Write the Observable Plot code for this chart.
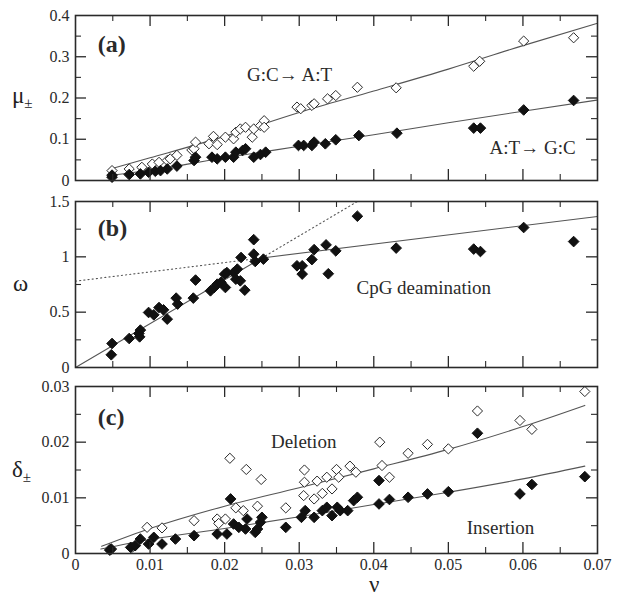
<!DOCTYPE html>
<html><head><meta charset="utf-8">
<script src="https://cdn.jsdelivr.net/npm/d3@7"></script>
<script src="https://cdn.jsdelivr.net/npm/@observablehq/plot@0.6"></script>
<style>
body{margin:0;background:#fff;}
#wrap{position:relative;width:622px;height:596px;font-family:"Liberation Serif","DejaVu Serif",serif;color:#222;}
.p{position:absolute;left:0;}
.lab{position:absolute;font-size:23px;line-height:1;}
.lab sub{font-size:15px;vertical-align:-5px;}
</style></head><body><div id="wrap"></div>
<script>
// ---- data ----
const xTicksMajor = [0.01, 0.02, 0.03, 0.04, 0.05, 0.06];
const xTicksMinor = [0.005, 0.015, 0.025, 0.035, 0.045, 0.055, 0.065];
const xTickLabels = [0, 0.01, 0.02, 0.03, 0.04, 0.05, 0.06, 0.07];

const aTickLabels = [0, 0.1, 0.2, 0.3, 0.4];
const aMinor = [0.05, 0.15, 0.25, 0.35];
const bTickLabels = [0, 0.5, 1, 1.5];
const bMinor = [0.25, 0.75, 1.25];
const cTickLabels = [0, 0.01, 0.02, 0.03];
const cMinor = [0.005, 0.015, 0.025];

// (a) G:C -> A:T (open) and A:T -> G:C (filled)
const gcToAt = [[0.0049,0.024],[0.0072,0.028],[0.0089,0.032],[0.0103,0.040],[0.0112,0.044],[0.0123,0.0485],[0.0127,0.0525],[0.0136,0.061],[0.0156,0.074],[0.0159,0.077],[0.0161,0.093],[0.0179,0.089],[0.0185,0.107],[0.019,0.087],[0.0201,0.105],[0.0212,0.101],[0.0215,0.117],[0.0221,0.125],[0.0228,0.129],[0.0237,0.105],[0.0239,0.125],[0.0248,0.133],[0.0253,0.145],[0.0253,0.129],[0.0297,0.178],[0.0302,0.174],[0.0317,0.182],[0.032,0.186],[0.0338,0.198],[0.0349,0.206],[0.0378,0.226],[0.0430,0.2247],[0.0534,0.277],[0.0542,0.289],[0.0601,0.338],[0.0668,0.346]];
const atToGc = [[0.0049,0.008],[0.0049,0.013],[0.0072,0.0145],[0.0087,0.016],[0.0098,0.020],[0.0107,0.0225],[0.0114,0.024],[0.0123,0.028],[0.0136,0.035],[0.0159,0.0485],[0.0161,0.0565],[0.0183,0.0565],[0.019,0.0525],[0.0201,0.0565],[0.0212,0.0565],[0.0215,0.0686],[0.0224,0.0727],[0.0228,0.077],[0.0239,0.0565],[0.0248,0.063],[0.0255,0.0686],[0.0299,0.085],[0.0306,0.085],[0.0317,0.085],[0.032,0.093],[0.0335,0.089],[0.0349,0.0987],[0.038,0.109],[0.0431,0.1147],[0.0534,0.127],[0.0543,0.127],[0.0601,0.171],[0.0668,0.194]];
const gcFitX = [0.0045,0.01,0.02,0.03,0.04,0.05,0.06,0.07];
const gcFitY = [0.027,0.055,0.107,0.165,0.217,0.27,0.327,0.381];
const atFitX = [0.0045,0.01,0.02,0.03,0.04,0.05,0.06,0.07];
const atFitY = [0.012,0.025,0.055,0.083,0.111,0.140,0.168,0.195];

// (b) omega
const omega = [[0.0049,0.217],[0.0048,0.115],[0.0072,0.262],[0.0087,0.338],[0.0085,0.307],[0.0086,0.277],[0.0098,0.497],[0.0105,0.476],[0.0112,0.542],[0.0118,0.521],[0.0123,0.437],[0.0135,0.627],[0.0137,0.573],[0.0158,0.627],[0.0161,0.79],[0.0181,0.693],[0.0186,0.723],[0.019,0.753],[0.0195,0.77],[0.0201,0.723],[0.0200,0.844],[0.0203,0.858],[0.0212,0.858],[0.0215,0.798],[0.0217,0.889],[0.0221,0.783],[0.0222,0.994],[0.0227,0.699],[0.0239,1.155],[0.0239,1.024],[0.0241,0.958],[0.0252,0.979],[0.0297,0.919],[0.0304,0.919],[0.0304,0.844],[0.0317,0.975],[0.032,1.065],[0.0336,1.108],[0.0339,0.847],[0.0349,1.054],[0.0378,1.367],[0.043,1.079],[0.0534,1.07],[0.0543,1.048],[0.0601,1.265],[0.0668,1.138]];
const bSteepX = [0, 0.025];
const bSteepY = [0, 0.99];
const bFlatX = [0.025, 0.07];
const bFlatY = [0.99, 1.365];
const bFlatDotX = [0, 0.025];
const bFlatDotY = [0.78, 0.99];
const bSteepDotX = [0.025, 0.0378];
const bSteepDotY = [0.99, 1.5];

// (c) Deletion (open) and Insertion (filled)
const deletion = [[0.0046,0.0008],[0.0076,0.0011],[0.008,0.0014],[0.0096,0.0047],[0.0116,0.0046],[0.0159,0.0059],[0.019,0.0062],[0.0192,0.0054],[0.0201,0.0062],[0.0207,0.0171],[0.0215,0.0082],[0.0225,0.0077],[0.0229,0.0151],[0.0244,0.0085],[0.0249,0.0133],[0.0282,0.0082],[0.0307,0.015],[0.0307,0.0128],[0.0306,0.0104],[0.032,0.0098],[0.0324,0.013],[0.0331,0.0108],[0.0337,0.0137],[0.0344,0.0116],[0.035,0.0151],[0.0353,0.0137],[0.0368,0.0157],[0.0376,0.0146],[0.0408,0.020],[0.0411,0.0158],[0.0421,0.0137],[0.0446,0.018],[0.0472,0.0196],[0.05,0.0188],[0.0539,0.0256],[0.0596,0.0239],[0.0612,0.0223],[0.0683,0.0291]];
const insertion = [[0.0046,0.0006],[0.0048,0.0008],[0.0074,0.0011],[0.008,0.0014],[0.0087,0.0026],[0.0098,0.0017],[0.0105,0.0029],[0.0116,0.0017],[0.0134,0.0026],[0.0159,0.0032],[0.019,0.0035],[0.0203,0.0035],[0.0208,0.0098],[0.0212,0.0053],[0.0219,0.0047],[0.0228,0.0044],[0.023,0.0062],[0.0241,0.0038],[0.0244,0.0044],[0.0248,0.0056],[0.025,0.0065],[0.0282,0.0047],[0.0303,0.0065],[0.0308,0.0077],[0.032,0.0065],[0.0331,0.0077],[0.0337,0.0083],[0.0344,0.0068],[0.0351,0.0083],[0.0355,0.0077],[0.0365,0.0077],[0.0373,0.0095],[0.0378,0.0101],[0.0407,0.0131],[0.0407,0.0089],[0.0421,0.0097],[0.0446,0.0101],[0.0472,0.0107],[0.05,0.0111],[0.0539,0.0216],[0.0596,0.0107],[0.0612,0.0124],[0.0683,0.0138]];
const delFitX = [0.0035,0.01,0.02,0.03,0.04,0.05,0.06,0.0683];
const delFitY = [0.0013,0.0045,0.0085,0.0118,0.0152,0.0187,0.0228,0.0266];
const insFitX = [0.0034,0.01,0.02,0.03,0.04,0.05,0.06,0.0683];
const insFitY = [0.0008,0.0025,0.0045,0.0066,0.0088,0.011,0.0134,0.0157];

// ---- drawing ----
const INK = "#2a2a2a", LINE = "#555";
const FONT = '"Liberation Serif", "DejaVu Serif", serif';
const W = 622, ML = 75, MR = 25;
const TMAJ = 11, TMIN = 6;
const fmt = d => d === 0 ? "0" : String(+d.toFixed(3));
const zip = (xs, ys) => xs.map((x, i) => ({x, y: ys[i]}));

function fitLine(xs, ys, extra = {}) {
  return Plot.line(zip(xs, ys), {x: "x", y: "y", stroke: LINE, strokeWidth: 1.1, curve: "monotone-x", ...extra});
}
function openDots(pts) {
  return Plot.dot(pts, {x: d => d[0], y: d => d[1], symbol: "diamond2", r: 4.6, fill: "white", stroke: INK, strokeWidth: 1});
}
function fillDots(pts) {
  return Plot.dot(pts, {x: d => d[0], y: d => d[1], symbol: "diamond2", r: 4.8, fill: "#111", stroke: "#111", strokeWidth: 1});
}
function label(txt, x, y, extra = {}) {
  return Plot.text([txt], {x: () => x, y: () => y, text: d => d, fontSize: 19, fill: INK, fontFamily: FONT, ...extra});
}

function panel({top, height, mt, mb, yDomain, yLabels, yMinor, marks, showX}) {
  const ih = height - mt - mb, iw = W - ML - MR;
  const ticks = [
    Plot.ruleX(xTicksMajor, {insetTop: ih - TMAJ, stroke: INK, strokeWidth: 1.3}),
    Plot.ruleX(xTicksMajor, {insetBottom: ih - TMAJ, stroke: INK, strokeWidth: 1.3}),
    Plot.ruleX(xTicksMinor, {insetTop: ih - TMIN, stroke: INK, strokeWidth: 1.1}),
    Plot.ruleX(xTicksMinor, {insetBottom: ih - TMIN, stroke: INK, strokeWidth: 1.1}),
    Plot.ruleY(yLabels.slice(1, -1), {insetRight: iw - TMAJ, stroke: INK, strokeWidth: 1.3}),
    Plot.ruleY(yLabels.slice(1, -1), {insetLeft: iw - TMAJ, stroke: INK, strokeWidth: 1.3}),
    Plot.ruleY(yMinor, {insetRight: iw - TMIN, stroke: INK, strokeWidth: 1.1}),
    Plot.ruleY(yMinor, {insetLeft: iw - TMIN, stroke: INK, strokeWidth: 1.1})
  ];
  const axes = [Plot.axisY(yLabels, {tickSize: 0, tickPadding: 6, tickFormat: fmt, label: null, fontSize: 16, fontFamily: FONT, fill: INK})];
  if (showX) axes.push(Plot.axisX(xTickLabels, {tickSize: 0, tickPadding: 5, tickFormat: fmt, label: null, fontSize: 16, fontFamily: FONT, fill: INK}));
  const svg = Plot.plot({
    width: W, height, marginLeft: ML, marginRight: MR, marginTop: mt, marginBottom: mb,
    style: {fontFamily: FONT, fontSize: "16px", color: INK, background: "transparent", overflow: "visible"},
    x: {domain: [0, 0.07], axis: showX ? undefined : null},
    y: {domain: yDomain},
    marks: [...marks, ...ticks, Plot.frame({stroke: INK, strokeWidth: 1.6}), ...axes]
  });
  svg.classList.add("p");
  svg.style.top = top + "px";
  return svg;
}

const wrap = document.getElementById("wrap");

wrap.appendChild(panel({
  top: 0, height: 186, mt: 15, mb: 6, yDomain: [0, 0.4], yLabels: aTickLabels, yMinor: aMinor,
  marks: [
    fitLine(gcFitX, gcFitY), fitLine(atFitX, atFitY),
    openDots(gcToAt), fillDots(atToGc),
    label("(a)", 0.003, 0.33, {textAnchor: "start", fontWeight: "bold", fontSize: 24}),
    label("G:C\u2192 A:T", 0.0287, 0.257),
    label("A:T\u2192 G:C", 0.0613, 0.078)
  ]
}));

wrap.appendChild(panel({
  top: 190, height: 183, mt: 11, mb: 6, yDomain: [0, 1.5], yLabels: bTickLabels, yMinor: bMinor,
  marks: [
    fitLine(bFlatDotX, bFlatDotY, {strokeDasharray: "1.2,3", curve: "linear"}),
    fitLine(bSteepDotX, bSteepDotY, {strokeDasharray: "1.2,3", curve: "linear"}),
    fitLine(bSteepX, bSteepY, {curve: "linear"}), fitLine(bFlatX, bFlatY, {curve: "linear"}),
    fillDots(omega),
    label("(b)", 0.003, 1.26, {textAnchor: "start", fontWeight: "bold", fontSize: 24}),
    label("CpG deamination", 0.0467, 0.72)
  ]
}));

wrap.appendChild(panel({
  top: 376, height: 220, mt: 10, mb: 43, yDomain: [0, 0.03], yLabels: cTickLabels, yMinor: cMinor, showX: true,
  marks: [
    fitLine(delFitX, delFitY), fitLine(insFitX, insFitY),
    openDots(deletion), fillDots(insertion),
    label("(c)", 0.003, 0.0245, {textAnchor: "start", fontWeight: "bold", fontSize: 24}),
    label("Deletion", 0.0306, 0.0201),
    label("Insertion", 0.057, 0.0046)
  ]
}));

function html(content, left, top, extraStyle) {
  const d = document.createElement("div");
  d.className = "lab";
  d.innerHTML = content;
  d.style.left = left + "px";
  d.style.top = top + "px";
  if (extraStyle) Object.assign(d.style, extraStyle);
  wrap.appendChild(d);
}
html("\u03bc<sub>\u00b1</sub>", 12, 84);
html("\u03c9", 13, 272);
html("\u03b4<sub>\u00b1</sub>", 12, 458);
html("\u03bd", 369, 576, {lineHeight: "0.75"});
</script>
</body></html>
